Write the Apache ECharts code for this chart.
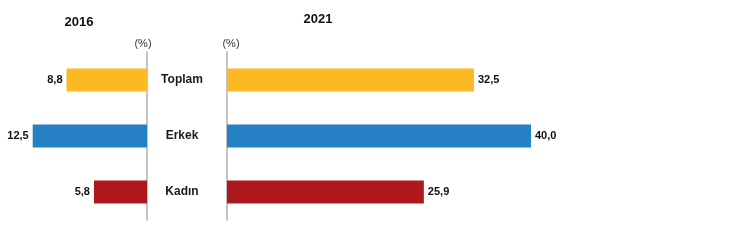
<!DOCTYPE html>
<html><head><meta charset="utf-8">
<script src="https://cdn.jsdelivr.net/npm/echarts@6/dist/echarts.min.js"></script>
<style>html,body{margin:0;padding:0;background:#fff}#c{width:730px;height:242px}</style>
</head><body><div id="c"></div>
<script>
var categories = ['Toplam', 'Erkek', 'Kadın'];
var values2016 = [8.8, 12.5, 5.8];
var values2021 = [32.5, 40.0, 25.9];
var yearLabels = ['2016', '2021'];
var unitLabel = '(%)';
var colors = ['#FBBA23', '#2680C4', '#AF181A'];

var fmt = function (p) { return p.value.toFixed(1).replace('.', ','); };
var font = 'Liberation Sans, Arial, sans-serif';
function items(vals) {
  return vals.map(function (v, i) { return { value: v, itemStyle: { color: colors[i] } }; });
}
var chart = echarts.init(document.getElementById('c'));
chart.setOption({
  animation: false,
  title: [
    { text: yearLabels[0], left: 74, top: 11, textAlign: 'center', textStyle: { fontFamily: font, fontSize: 13, fontWeight: 'bold', color: '#111' } },
    { text: yearLabels[1], left: 313, top: 8, textAlign: 'center', textStyle: { fontFamily: font, fontSize: 13, fontWeight: 'bold', color: '#111' } }
  ],
  grid: [
    { left: 19, width: 128, top: 52, height: 168 },
    { left: 227, width: 456, top: 52, height: 168 }
  ],
  xAxis: [
    { gridIndex: 0, type: 'value', min: 0, max: 14, inverse: true, show: false },
    { gridIndex: 1, type: 'value', min: 0, max: 60, show: false }
  ],
  yAxis: [
    { gridIndex: 0, type: 'category', data: categories, inverse: true, position: 'right',
      axisLine: { onZero: false, lineStyle: { color: '#B0B0B0', width: 1.5 } },
      axisTick: { show: false }, axisLabel: { show: false },
      name: unitLabel, nameLocation: 'start', nameGap: 3,
      nameTextStyle: { fontFamily: font, fontSize: 11, color: '#333', padding: [0, 8, 0, 0] } },
    { gridIndex: 1, type: 'category', data: categories, inverse: true, position: 'left',
      axisLine: { onZero: false, lineStyle: { color: '#B0B0B0', width: 1.5 } },
      axisTick: { show: false },
      axisLabel: { margin: 45, align: 'center', fontFamily: font, fontSize: 12, fontWeight: 'bold', color: '#1a1a1a' },
      name: unitLabel, nameLocation: 'start', nameGap: 3,
      nameTextStyle: { fontFamily: font, fontSize: 11, color: '#333', padding: [0, 0, 0, 8] } }
  ],
  series: [
    { type: 'bar', xAxisIndex: 0, yAxisIndex: 0, data: items(values2016), barCategoryGap: '59%',
      label: { show: true, position: 'left', distance: 4, formatter: fmt, fontFamily: font, fontSize: 11, fontWeight: 'bold', color: '#111' } },
    { type: 'bar', xAxisIndex: 1, yAxisIndex: 1, data: items(values2021), barCategoryGap: '59%',
      label: { show: true, position: 'right', distance: 4, formatter: fmt, fontFamily: font, fontSize: 11, fontWeight: 'bold', color: '#111' } }
  ]
});
</script></body></html>
